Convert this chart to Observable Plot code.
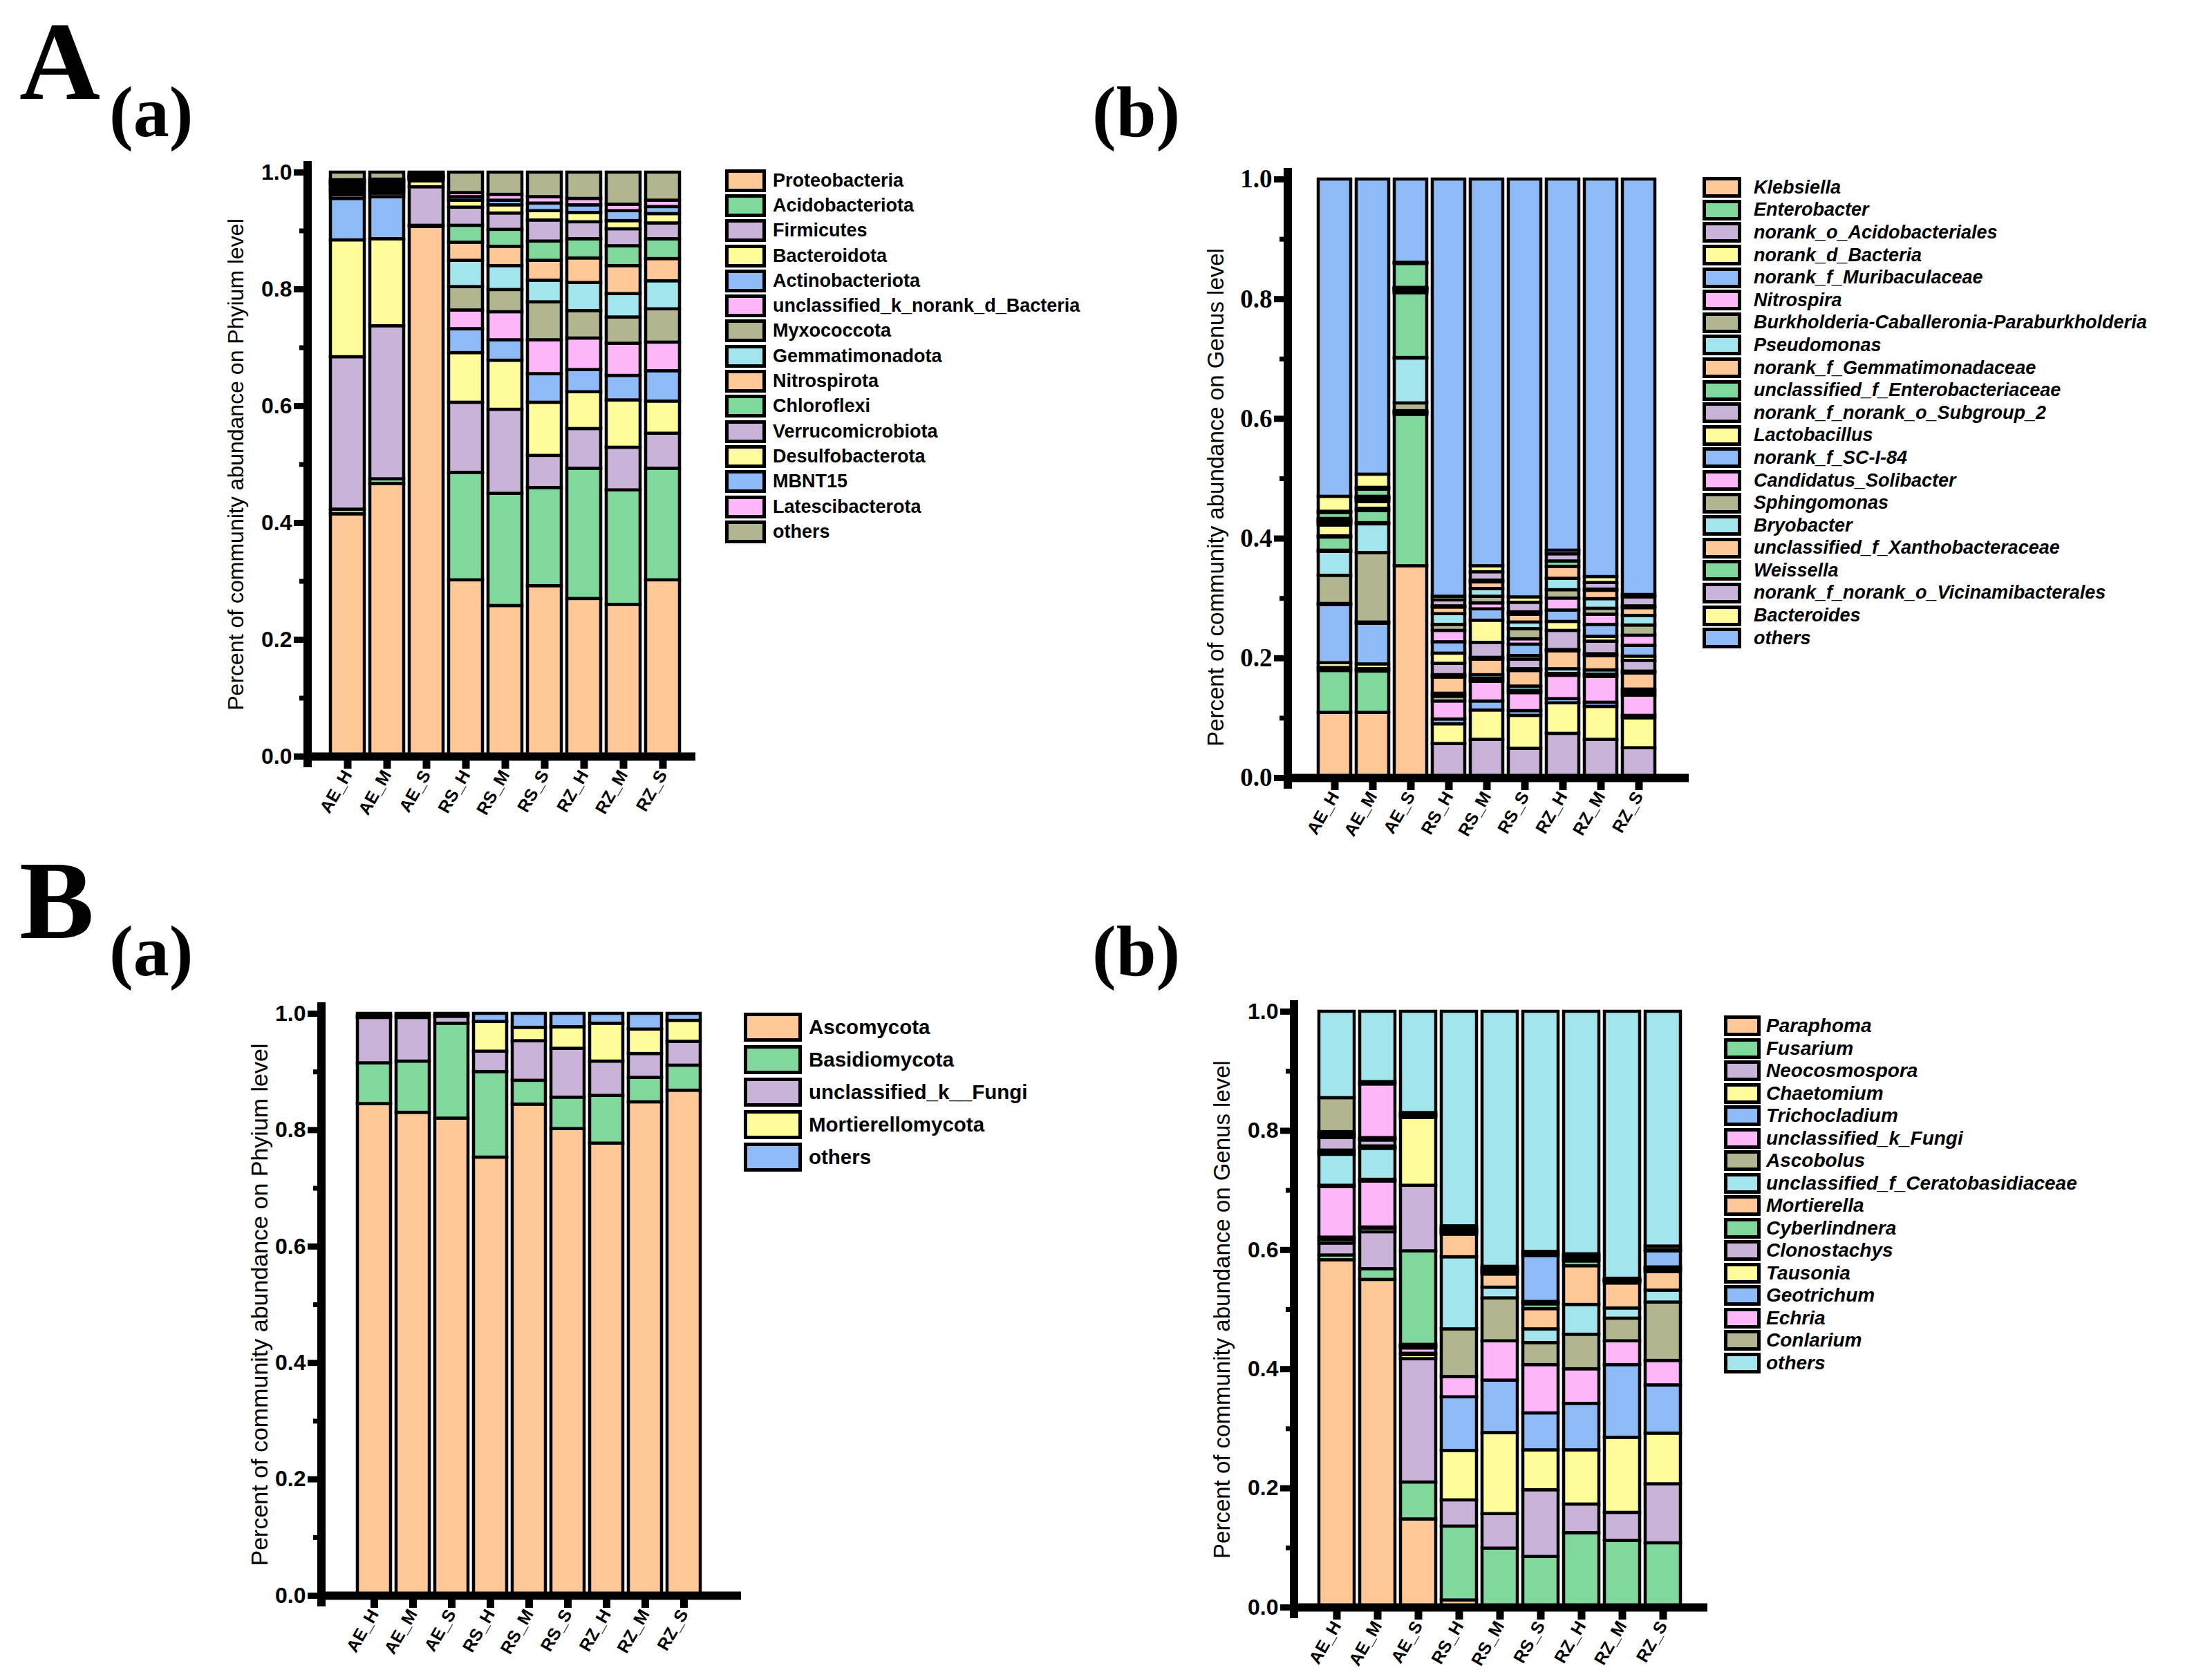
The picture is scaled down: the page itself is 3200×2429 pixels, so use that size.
<!DOCTYPE html>
<html><head><meta charset="utf-8">
<script src="https://cdn.jsdelivr.net/npm/d3@7"></script>
<script src="https://cdn.jsdelivr.net/npm/@observablehq/plot@0.6"></script>
<style>
body{margin:0;background:#fff;}
#root{position:relative;width:3200px;height:2429px;overflow:hidden;background:#fff;font-family:"Liberation Sans",Arial,sans-serif;}
.panel{position:absolute;}
.panel svg{overflow:visible;}
.lab{position:absolute;font-family:"Liberation Serif","Times New Roman",serif;font-weight:bold;white-space:nowrap;color:#000;}
.legend{position:absolute;font-family:"Liberation Sans",Arial,sans-serif;font-weight:bold;color:#000;}
.legend .row{display:flex;align-items:center;white-space:nowrap;}
.legend .sw{box-sizing:border-box;border:5px solid #000;flex:none;}
</style></head><body><div id="root"></div>
<script>
const samples = ["AE_H","AE_M","AE_S","RS_H","RS_M","RS_S","RZ_H","RZ_M","RZ_S"];
const yMajor = [0, 0.2, 0.4, 0.6, 0.8, 1.0];
const yMinor = [0.1, 0.3, 0.5, 0.7, 0.9];
const palette = ["#FFC896","#80D89C","#C9B3D8","#FFFD9B","#8EBBF5","#FDB7F9","#B2B690","#A3E5EC"];

// A(a) bacteria, phylum level
const bacPhylumTaxa = ["Proteobacteria","Acidobacteriota","Firmicutes","Bacteroidota","Actinobacteriota","unclassified_k_norank_d_Bacteria","Myxococcota","Gemmatimonadota","Nitrospirota","Chloroflexi","Verrucomicrobiota","Desulfobacterota","MBNT15","Latescibacterota","others"];
const bacPhylumValues = [
  [.415,.467,.907,.302,.258,.292,.270,.260,.302],
  [.008,.008,.002,.184,.192,.168,.223,.196,.191],
  [.261,.262,.066,.120,.144,.055,.068,.073,.060],
  [.200,.149,.010,.085,.084,.091,.063,.081,.055],
  [.071,.072,.003,.041,.035,.049,.038,.042,.052],
  [.006,.006,.001,.032,.048,.058,.054,.055,.049],
  [.005,.004,.001,.040,.038,.065,.047,.045,.057],
  [.004,.003,.001,.045,.041,.037,.048,.040,.048],
  [.003,.003,.001,.031,.033,.034,.042,.048,.038],
  [.005,.003,.001,.029,.029,.033,.033,.034,.034],
  [.003,.003,.001,.031,.028,.036,.029,.029,.027],
  [.002,.003,.001,.012,.014,.016,.016,.014,.016],
  [.002,.003,.003,.006,.008,.013,.013,.017,.012],
  [.002,.002,.001,.007,.010,.011,.011,.011,.011],
  [.013,.012,.001,.035,.038,.042,.045,.055,.048]
];

// A(b) bacteria, genus level
const bacGenusTaxa = ["Klebsiella","Enterobacter","norank_o_Acidobacteriales","norank_d_Bacteria","norank_f_Muribaculaceae","Nitrospira","Burkholderia-Caballeronia-Paraburkholderia","Pseudomonas","norank_f_Gemmatimonadaceae","unclassified_f_Enterobacteriaceae","norank_f_norank_o_Subgroup_2","Lactobacillus","norank_f_SC-I-84","Candidatus_Solibacter","Sphingomonas","Bryobacter","unclassified_f_Xanthobacteraceae","Weissella","norank_f_norank_o_Vicinamibacterales","Bacteroides","others"];
const bacGenusValues = [
  [.109,.109,.354,.001,.001,.001,.001,.001,.001],
  [.070,.069,.253,.001,.001,.001,.001,.001,.001],
  [.005,.004,.001,.055,.062,.047,.072,.062,.048],
  [.008,.008,.002,.033,.049,.055,.051,.055,.050],
  [.097,.068,.002,.008,.015,.008,.007,.007,.004],
  [.002,.002,.001,.030,.033,.030,.039,.043,.034],
  [.047,.116,.013,.008,.005,.004,.003,.004,.005],
  [.040,.048,.075,.005,.006,.007,.008,.007,.005],
  [.002,.002,.001,.027,.026,.026,.030,.024,.027],
  [.022,.020,.108,.004,.003,.003,.002,.003,.003],
  [.002,.004,.001,.019,.025,.016,.032,.021,.018],
  [.018,.011,.003,.017,.037,.006,.015,.008,.007],
  [.003,.003,.001,.019,.019,.019,.019,.020,.018],
  [.002,.002,.001,.019,.010,.009,.020,.017,.017],
  [.002,.002,.001,.010,.011,.017,.014,.010,.017],
  [.002,.001,.001,.018,.013,.011,.019,.016,.016],
  [.002,.001,.001,.011,.011,.013,.020,.014,.013],
  [.010,.012,.040,.002,.003,.004,.009,.002,.003],
  [.002,.003,.001,.010,.014,.016,.012,.011,.015],
  [.025,.022,.001,.006,.010,.009,.006,.010,.004],
  [.530,.493,.139,.697,.646,.698,.620,.664,.694]
];

// B(a) fungi, phylum level
const funPhylumTaxa = ["Ascomycota","Basidiomycota","unclassified_k__Fungi","Mortierellomycota","others"];
const funPhylumValues = [
  [.845,.830,.820,.753,.844,.802,.777,.848,.868],
  [.070,.088,.163,.147,.041,.054,.082,.042,.043],
  [.078,.075,.012,.035,.068,.084,.059,.041,.041],
  [.003,.004,.002,.051,.023,.037,.065,.042,.036],
  [.004,.003,.003,.014,.024,.023,.017,.027,.012]
];

// B(b) fungi, genus level
const funGenusTaxa = ["Paraphoma","Fusarium","Neocosmospora","Chaetomium","Trichocladium","unclassified_k_Fungi","Ascobolus","unclassified_f_Ceratobasidiaceae","Mortierella","Cyberlindnera","Clonostachys","Tausonia","Geotrichum","Echria","Conlarium","others"];
const funGenusValues = [
  [.583,.550,.148,.012,.001,.001,.001,.001,.001],
  [.008,.018,.062,.124,.098,.084,.124,.111,.107],
  [.020,.062,.207,.044,.058,.112,.048,.047,.099],
  [.006,.006,.007,.083,.136,.067,.091,.126,.085],
  [.004,.002,.002,.090,.088,.062,.078,.122,.081],
  [.085,.077,.009,.034,.066,.081,.058,.040,.041],
  [.002,.003,.002,.080,.072,.037,.058,.038,.098],
  [.052,.052,.002,.121,.018,.023,.050,.017,.020],
  [.003,.002,.002,.038,.022,.034,.065,.042,.031],
  [.004,.002,.157,.002,.002,.008,.008,.002,.004],
  [.021,.010,.110,.002,.002,.002,.002,.001,.002],
  [.003,.002,.114,.002,.002,.002,.002,.001,.002],
  [.003,.002,.003,.002,.002,.077,.003,.001,.027],
  [.004,.090,.002,.002,.002,.003,.002,.001,.002],
  [.057,.004,.003,.004,.003,.004,.003,.002,.006],
  [.145,.118,.170,.360,.428,.403,.407,.448,.394]
];

const SANS = '"Liberation Sans", Arial, sans-serif';
const SERIF = '"Liberation Serif", "Times New Roman", serif';
const root = document.getElementById("root");

function panel(cfg) {
  const data = [];
  cfg.taxa.forEach((t, i) => cfg.values[i].forEach((v, j) => data.push({sample: samples[j], taxon: t, value: v})));
  const plot = Plot.plot({
    width: cfg.w, height: cfg.h,
    marginLeft: cfg.ml, marginRight: cfg.mr, marginTop: cfg.mt, marginBottom: cfg.mb,
    style: {background: "transparent", fontFamily: SANS, color: "#000", overflow: "visible"},
    x: {domain: samples, range: cfg.xr, paddingInner: 0.14, paddingOuter: 0},
    y: {domain: [0, 1]},
    color: {domain: cfg.taxa, range: cfg.taxa.map((_, i) => palette[i % palette.length])},
    marks: [
      Plot.barY(data, {x: "sample", y: "value", fill: "taxon", stroke: "#000", strokeWidth: 4.5}),
      Plot.ruleY([0], {stroke: "#000", strokeWidth: 12}),
      Plot.axisY({ticks: yMajor, tickSize: 20, strokeWidth: 9, tickPadding: 3, tickFormat: d => d.toFixed(1),
        fontSize: cfg.tickFont, fontWeight: "bold", fontFamily: cfg.tickFamily, label: null}),
      Plot.axisY({ticks: yMinor, tickSize: 12, strokeWidth: 7, tickFormat: () => "", label: null}),
      Plot.axisX({tickSize: 18, strokeWidth: 11, tickRotate: -60, tickPadding: 4, fontSize: 25, fontWeight: "bold", fontFamily: SANS, label: null}),
      Plot.text([cfg.title], {frameAnchor: "left", textAnchor: "middle", rotate: -90, dx: cfg.titleDx, dy: cfg.titleDy || 0,
        fontSize: cfg.titleFont, fontWeight: "normal", fontFamily: SANS, fill: "#000"})
    ]
  });
  const y = plot.scale("y");
  d3.select(plot).append("line")
    .attr("x1", cfg.ml).attr("x2", cfg.ml)
    .attr("y1", y.apply(1) - 16).attr("y2", y.apply(0) + 16)
    .attr("stroke", "#000").attr("stroke-width", 12);
  const div = document.createElement("div");
  div.className = "panel";
  div.style.left = cfg.left + "px";
  div.style.top = cfg.top + "px";
  div.appendChild(plot);
  root.appendChild(div);
}

function legend(cfg) {
  const div = document.createElement("div");
  div.className = "legend";
  div.style.left = cfg.left + "px";
  div.style.top = cfg.top + "px";
  div.style.fontSize = cfg.font + "px";
  if (cfg.italic) div.style.fontStyle = "italic";
  cfg.taxa.forEach((t, i) => {
    const row = document.createElement("div");
    row.className = "row";
    row.style.height = cfg.pitch + "px";
    const sw = document.createElement("span");
    sw.className = "sw";
    sw.style.width = cfg.swW + "px";
    sw.style.height = cfg.swH + "px";
    sw.style.background = palette[i % palette.length];
    const tx = document.createElement("span");
    tx.textContent = t;
    tx.style.marginLeft = cfg.gap + "px";
    row.appendChild(sw); row.appendChild(tx);
    div.appendChild(row);
  });
  root.appendChild(div);
}

function label(text, left, top, size, lh) {
  const d = document.createElement("div");
  d.className = "lab";
  d.textContent = text;
  d.style.left = left + "px";
  d.style.top = top + "px";
  d.style.fontSize = size + "px";
  d.style.lineHeight = lh;
  root.appendChild(d);
}

panel({left: 290, top: 200, w: 760, h: 1000, ml: 155, mr: 44, mt: 49, mb: 106, xr: [186, 696],
  taxa: bacPhylumTaxa, values: bacPhylumValues, tickFont: 32, tickFamily: SANS,
  title: "Percent of community abundance on Phyium level", titleFont: 32, titleDx: -104});
panel({left: 1700, top: 200, w: 800, h: 1050, ml: 163, mr: 57, mt: 59, mb: 125, xr: [204, 698],
  taxa: bacGenusTaxa, values: bacGenusValues, tickFont: 37, tickFamily: SERIF,
  title: "Percent of community abundance on Genus level", titleFont: 33, titleDx: -104, titleDy: 27});
panel({left: 300, top: 1400, w: 800, h: 1000, ml: 165, mr: 28, mt: 66, mb: 92, xr: [216, 714],
  taxa: funPhylumTaxa, values: funPhylumValues, tickFont: 32, tickFamily: SANS,
  title: "Percent of community abundance on Phyium level", titleFont: 34, titleDx: -89});
panel({left: 1700, top: 1400, w: 800, h: 1000, ml: 172, mr: 30, mt: 63, mb: 75, xr: [204, 735],
  taxa: funGenusTaxa, values: funGenusValues, tickFont: 32, tickFamily: SANS,
  title: "Percent of community abundance on Genus level", titleFont: 33, titleDx: -104});

legend({taxa: bacPhylumTaxa, left: 1049, top: 243, pitch: 36.3, swW: 59, swH: 33, font: 27, italic: false, gap: 10});
legend({taxa: bacGenusTaxa, left: 2463, top: 255, pitch: 32.6, swW: 56, swH: 30, font: 27, italic: true, gap: 18});
legend({taxa: funPhylumTaxa, left: 1076, top: 1462, pitch: 47, swW: 84, swH: 42, font: 29.5, italic: false, gap: 10});
legend({taxa: funGenusTaxa, left: 2494, top: 1468, pitch: 32.5, swW: 53, swH: 30, font: 28, italic: true, gap: 8});

label("A", 28, 24, 162, 0.8);
label("(a)", 158, 110, 104, 1);
label("(b)", 1580, 110, 104, 1);
label("B", 28, 1238, 162, 0.8);
label("(a)", 158, 1324, 104, 1);
label("(b)", 1580, 1324, 104, 1);
</script></body></html>
